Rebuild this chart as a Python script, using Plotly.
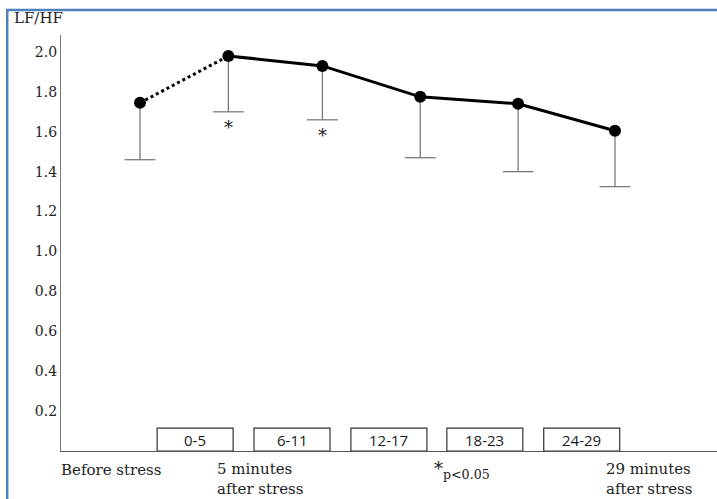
import plotly.graph_objects as go

# ---- data ----
slot_x = [0, 0.93, 1.92, 2.95, 3.98, 5.0]            # measurement positions
lfhf_mean = [1.745, 1.98, 1.93, 1.775, 1.74, 1.605]  # LF/HF mean
lfhf_err_minus = [0.285, 0.28, 0.27, 0.305, 0.34, 0.28]  # lower error (SD)
signif = [False, True, True, False, False, False]

interval_labels = ["0-5", "6-11", "12-17", "18-23", "24-29"]
interval_x = [0.58, 1.6, 2.62, 3.63, 4.65]
interval_width = 0.8
interval_height = 0.115

ytick_vals = [0.2, 0.4, 0.6, 0.8, 1.0, 1.2, 1.4, 1.6, 1.8, 2.0]
ytick_text = ["0.2", "0.4", "0.6", "0.8", "1.0", "1.2", "1.4", "1.6", "1.8", "2.0"]

SERIF = "Georgia, DejaVu Serif, serif"
SANS = "Open Sans, sans-serif"

lower = [m - e for m, e in zip(lfhf_mean, lfhf_err_minus)]

fig = go.Figure()

# error bar stems (downward only)
stem_x, stem_y = [], []
for x, m, lo in zip(slot_x, lfhf_mean, lower):
    stem_x += [x, x, None]
    stem_y += [m, lo, None]
fig.add_trace(go.Scatter(x=stem_x, y=stem_y, mode="lines",
                         line=dict(color="#7a7a7a", width=1.3),
                         showlegend=False, hoverinfo="skip"))
# error bar caps
fig.add_trace(go.Scatter(x=slot_x, y=lower, mode="markers",
                         marker=dict(symbol="line-ew", size=22,
                                     line=dict(color="#7a7a7a", width=1.3)),
                         showlegend=False, hoverinfo="skip"))

# dotted segment before stress -> first post-stress
fig.add_trace(go.Scatter(
    x=slot_x[:2], y=lfhf_mean[:2], mode="lines",
    line=dict(color="black", width=3, dash="dot"),
    showlegend=False, hoverinfo="skip"))
# solid line for the rest
fig.add_trace(go.Scatter(
    x=slot_x[1:], y=lfhf_mean[1:], mode="lines",
    line=dict(color="black", width=3),
    showlegend=False, hoverinfo="skip"))
# markers
fig.add_trace(go.Scatter(
    x=slot_x, y=lfhf_mean, mode="markers",
    marker=dict(color="black", size=12),
    showlegend=False, hoverinfo="skip"))

annotations = []
shapes = []

# asterisks under significant points
for x, lo, s in zip(slot_x, lower, signif):
    if s:
        annotations.append(dict(x=x, y=lo, xref="x", yref="y", text="*",
                                showarrow=False, yanchor="top", yshift=-3,
                                font=dict(family=SERIF, size=18, color="#222")))

# interval boxes
for lab, cx in zip(interval_labels, interval_x):
    shapes.append(dict(type="rect", xref="x", yref="y",
                       x0=cx - interval_width / 2, x1=cx + interval_width / 2,
                       y0=0, y1=interval_height,
                       line=dict(color="#333", width=1.2), fillcolor="white"))
    annotations.append(dict(x=cx, y=interval_height / 2, xref="x", yref="y",
                            text=lab, showarrow=False,
                            font=dict(family=SANS, size=15, color="#1a1a1a")))

# outer blue frame
shapes.append(dict(type="rect", xref="paper", yref="paper",
                   x0=-0.082, x1=1.05, y0=-0.3, y1=1.06,
                   line=dict(color="#4f81bd", width=2.5), layer="below"))

# bottom labels (paper coordinates, plot area spans x 61..717 px)
bottom_font = dict(family=SERIF, size=15, color="#222")
annotations += [
    dict(x=-0.003, y=-0.02, xref="paper", yref="paper", text="Before stress",
         showarrow=False, xanchor="left", yanchor="top", font=bottom_font),
    dict(x=0.234, y=-0.018, xref="paper", yref="paper",
         text="5 minutes<br>after stress", align="left",
         showarrow=False, xanchor="left", yanchor="top", font=bottom_font),
    dict(x=0.827, y=-0.016, xref="paper", yref="paper",
         text="29 minutes<br>after stress", align="left",
         showarrow=False, xanchor="left", yanchor="top", font=bottom_font),
    dict(x=0.566, y=-0.012, xref="paper", yref="paper",
         text="*<sub>p<0.05</sub>", align="left",
         showarrow=False, xanchor="left", yanchor="top",
         font=dict(family=SERIF, size=18, color="#222")),
    dict(x=-0.075, y=1.04, xref="paper", yref="paper", text="LF/HF",
         showarrow=False, xanchor="left", yanchor="middle",
         font=dict(family=SERIF, size=15, color="#222")),
]

fig.update_layout(
    width=717, height=499,
    margin=dict(l=61, r=0, t=35, b=48),
    paper_bgcolor="white", plot_bgcolor="white",
    shapes=shapes, annotations=annotations,
    xaxis=dict(range=[-0.832, 6.074], showgrid=False, zeroline=False,
               showticklabels=False, ticks="",
               showline=True, linecolor="#555", linewidth=1.2),
    yaxis=dict(range=[0, 2.085], showgrid=False, zeroline=False,
               tickvals=ytick_vals, ticktext=ytick_text, ticks="",
               tickfont=dict(family=SERIF, size=14, color="#222"),
               showline=True, linecolor="#777", linewidth=1.2),
)

fig.write_html("out.html")
